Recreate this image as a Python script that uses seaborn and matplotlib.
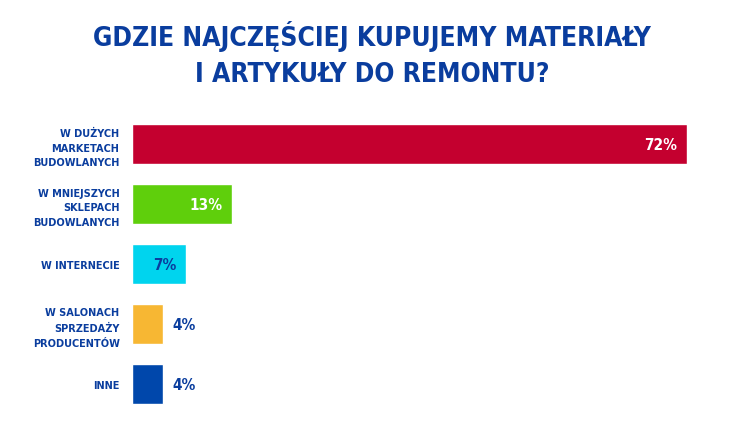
import matplotlib
matplotlib.use("Agg")
import matplotlib.pyplot as plt
import seaborn as sns
import pandas as pd

categories = ["W DUŻYCH\nMARKETACH\nBUDOWLANYCH",
              "W MNIEJSZYCH\nSKLEPACH\nBUDOWLANYCH",
              "W INTERNECIE",
              "W SALONACH\nSPRZEDAŻY\nPRODUCENTÓW",
              "INNE"]
values = [72, 13, 7, 4, 4]
value_labels = ["72%", "13%", "7%", "4%", "4%"]
colors = ["#c4002f", "#5fcf0c", "#00d4ee", "#f7b733", "#0047ab"]
label_inside = [True, True, True, False, False]
label_colors = ["white", "white", "#0a3d9e", "#0a3d9e", "#0a3d9e"]

sns.set_theme(style="white")
plt.rcParams['font.family'] = ['DejaVu Sans']
plt.rcParams['font.stretch'] = 'condensed'
BLUE = "#0a3d9e"

df = pd.DataFrame({"cat": categories, "val": values})

fig = plt.figure(figsize=(7.44, 4.31), dpi=100)
ax = fig.add_axes([132/744, 1-415/431, (687-132)/744, 300/431])
sns.barplot(data=df, y="cat", x="val", hue="cat", palette=colors, orient="h",
            width=0.667, legend=False, ax=ax, saturation=1)
ax.set_xlim(0, 72)
ax.set_ylim(4.5, -0.5)
ax.set_xlabel("")
ax.set_ylabel("")
ax.set_xticks([])
ax.set_yticks(range(len(categories)))
ax.set_yticklabels(categories, fontsize=7.8, fontweight="bold", color=BLUE,
                   linespacing=1.62, fontstretch="condensed")
ax.tick_params(axis="y", length=0, pad=9)
for s in ax.spines.values():
    s.set_visible(False)

for i, (v, lab, inside, c) in enumerate(zip(values, value_labels, label_inside, label_colors)):
    if inside:
        ax.text(v - 1.3, i, lab, ha="right", va="center", color=c,
                fontsize=11, fontweight="bold", fontstretch="condensed")
    else:
        ax.text(v + 1.2, i, lab, ha="left", va="center", color=c,
                fontsize=11, fontweight="bold", fontstretch="condensed")

fig.text(0.5, 1-37/431, "GDZIE NAJCZĘŚCIEJ KUPUJEMY MATERIAŁY", ha="center", va="center",
         fontsize=19, fontweight="bold", color=BLUE, fontstretch="condensed")
fig.text(0.5, 1-75/431, "I ARTYKUŁY DO REMONTU?", ha="center", va="center",
         fontsize=19, fontweight="bold", color=BLUE, fontstretch="condensed")

fig.savefig("out.png", dpi=100, facecolor="white")
